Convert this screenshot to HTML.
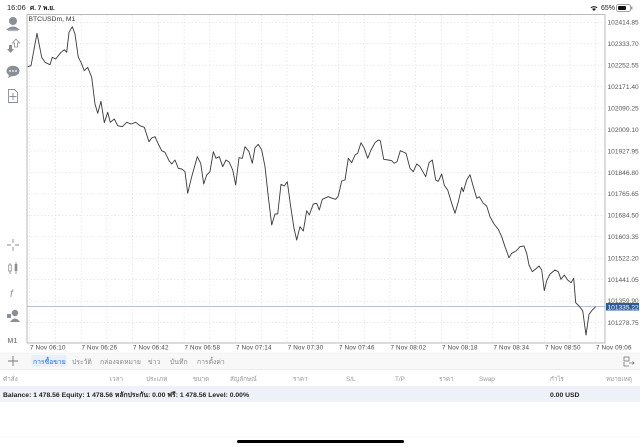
<!DOCTYPE html>
<html><head><meta charset="utf-8">
<style>
html,body{margin:0;padding:0;background:#fff;width:640px;height:447px;overflow:hidden}
svg{display:block}
text{font-family:"Liberation Sans","DejaVu Sans","Noto Sans CJK SC",sans-serif}
</style></head>
<body>
<svg width="640" height="447" viewBox="0 0 640 447" xmlns="http://www.w3.org/2000/svg">
<rect x="0" y="0" width="640" height="447" fill="#fff"/>
<!-- status bar -->
<text x="7" y="10" font-size="7.5" fill="#222">16:06</text>
<text x="30" y="10" font-size="6.5" fill="#222" font-weight="bold">ศ. 7 พ.ย.</text>
<g fill="#222">
<path d="M590.5,7.5 a5,5 0 0 1 7,0 l-0.8,0.8 a4,4 0 0 0 -5.4,0z"/>
<path d="M592,9 a3,3 0 0 1 4,0 l-2,2z"/>
</g>
<text x="601" y="10" font-size="7" fill="#222">65%</text>
<rect x="616.5" y="4.5" width="14" height="7" rx="2" fill="none" stroke="#888" stroke-width="0.8"/>
<rect x="618" y="6" width="8" height="4" rx="1" fill="#111"/>
<rect x="631.2" y="6.5" width="1.2" height="3" fill="#888"/>

<!-- chart grid -->
<g stroke="#dcdcdc" stroke-width="0.6" stroke-dasharray="1.5,2">
<line x1="27" x2="605" y1="22.3" y2="22.3"/>
<line x1="27" x2="605" y1="43.8" y2="43.8"/>
<line x1="27" x2="605" y1="65.2" y2="65.2"/>
<line x1="27" x2="605" y1="86.7" y2="86.7"/>
<line x1="27" x2="605" y1="108.1" y2="108.1"/>
<line x1="27" x2="605" y1="129.6" y2="129.6"/>
<line x1="27" x2="605" y1="151" y2="151"/>
<line x1="27" x2="605" y1="172.5" y2="172.5"/>
<line x1="27" x2="605" y1="193.9" y2="193.9"/>
<line x1="27" x2="605" y1="215.4" y2="215.4"/>
<line x1="27" x2="605" y1="236.8" y2="236.8"/>
<line x1="27" x2="605" y1="258.3" y2="258.3"/>
<line x1="27" x2="605" y1="279.7" y2="279.7"/>
<line x1="27" x2="605" y1="301.2" y2="301.2"/>
<line x1="27" x2="605" y1="322.6" y2="322.6"/>
</g>
<g stroke="#dcdcdc" stroke-width="0.6" stroke-dasharray="1.5,2">
<line y1="15" y2="343" x1="29.7" x2="29.7"/>
<line y1="15" y2="343" x1="55.4" x2="55.4"/>
<line y1="15" y2="343" x1="81.2" x2="81.2"/>
<line y1="15" y2="343" x1="106.9" x2="106.9"/>
<line y1="15" y2="343" x1="132.6" x2="132.6"/>
<line y1="15" y2="343" x1="158.4" x2="158.4"/>
<line y1="15" y2="343" x1="184.1" x2="184.1"/>
<line y1="15" y2="343" x1="209.8" x2="209.8"/>
<line y1="15" y2="343" x1="235.5" x2="235.5"/>
<line y1="15" y2="343" x1="261.3" x2="261.3"/>
<line y1="15" y2="343" x1="287" x2="287"/>
<line y1="15" y2="343" x1="312.7" x2="312.7"/>
<line y1="15" y2="343" x1="338.5" x2="338.5"/>
<line y1="15" y2="343" x1="364.2" x2="364.2"/>
<line y1="15" y2="343" x1="389.9" x2="389.9"/>
<line y1="15" y2="343" x1="415.7" x2="415.7"/>
<line y1="15" y2="343" x1="441.4" x2="441.4"/>
<line y1="15" y2="343" x1="467.1" x2="467.1"/>
<line y1="15" y2="343" x1="492.8" x2="492.8"/>
<line y1="15" y2="343" x1="518.6" x2="518.6"/>
<line y1="15" y2="343" x1="544.3" x2="544.3"/>
<line y1="15" y2="343" x1="570" x2="570"/>
<line y1="15" y2="343" x1="595.8" x2="595.8"/>
</g>
<!-- current price line -->
<line x1="27" x2="605" y1="306.5" y2="306.5" stroke="#b8c3d0" stroke-width="0.9"/>
<!-- frame -->
<rect x="27" y="14.5" width="578" height="328.5" fill="none" stroke="#a8a8a8" stroke-width="0.8"/>

<text x="28.5" y="21" font-size="6.8" fill="#333">BTCUSDm, M1</text>

<!-- price line -->
<polyline fill="none" stroke="#3a3a3a" stroke-width="0.9" stroke-linejoin="round" points="
27.7,66.7 31,65.7 37,33.3 41.7,57.3 45,62.3 50,64.7 52.3,57.3 55.7,59 61,52.3 64.3,49.7 66.7,52.3 69,32.3 72.3,26.7 75,34 78.3,57.3 81,62.3 84.3,70.7 87.7,67.3 91.7,77.3 95,104 97.7,113.3 101,101.3 104.3,122.7 107.7,112.3 110.3,122.3 114.3,119 117.7,125.7 122.3,126.7 126.7,122.3 131,124 135.7,122.3 140,125.7 144.3,127.3 149,141.7 151.7,138 155,136.7 158.3,144 161.7,150.7 165,152.3 169,160.7 171.7,164 175,160 178.3,168.3 181.7,169 185,171.7 187.7,193.3 191.7,176.7 197.3,156.7 200.7,163.3 203.7,184 206.7,175 210,171.7 213.3,151.7 216,158.3 219.3,156.7 222.7,166.7 226,160 229.3,162.3 232.7,170 235.7,185 239,157.7 242.3,158.3 245,146.7 249,151.7 252.3,163.3 255,147.7 258.3,144.3 261.7,150 265,166.7 268.3,196.7 271.7,225 275,214 277.7,214 281,184.3 284.3,186 287.3,181.7 290.7,206.7 294,228.3 296.7,240 300,226.7 303.3,231 306.7,210.7 309.3,215 313.3,204 316.7,203.3 319.3,210 322.3,199.3 328.3,196.7 332.3,198.3 335.7,199.3 338.3,196 341.7,181 345,180 348.3,158.3 351.7,162.7 355,155 357.7,153.3 361,142.7 364.3,148.3 367.7,158.3 371,150 375,142.7 378.3,140 380.3,140.7 383.7,159.3 388.3,160 391.7,160.7 394.3,163.3 397,161.7 400.3,150.7 403.3,152 406,153.3 410,168.3 413.3,171.7 416.7,164 420,166.7 425.7,176.7 429,162.7 432.3,160 435.7,180 438.3,181.3 441.7,174 444.3,185.3 447.7,190 451.7,203.3 455,213.3 458.3,201.7 461.7,187.3 463.3,191.7 466.7,180 470,174.7 473.3,186.7 476.7,198.3 479.3,196.7 483.3,203.3 486.7,206 490,216.7 494,224 498.3,229.3 501.7,236.7 505,246.7 509,257.7 511.7,253.3 516,251 520,246.7 524,246 526.7,253.3 529,265 532.3,271.7 535.7,269 539,266 541.7,270 544.3,290.7 546.7,280.7 550,274 555,270 558.3,271.7 561,279.3 564.3,275 567.7,280 571,282.7 573.7,278.3 575.7,302.7 579,306 582.7,310.7 586,335 589,314.3 592.3,310 595.7,306.7"/>

<!-- price axis labels -->
<g font-size="6.6" fill="#555">
<text x="607.5" y="24.6">102414.85</text>
<text x="607.5" y="46.1">102333.70</text>
<text x="607.5" y="67.5">102252.55</text>
<text x="607.5" y="89">102171.40</text>
<text x="607.5" y="110.4">102090.25</text>
<text x="607.5" y="131.9">102009.10</text>
<text x="607.5" y="153.3">101927.95</text>
<text x="607.5" y="174.8">101846.80</text>
<text x="607.5" y="196.2">101765.65</text>
<text x="607.5" y="217.7">101684.50</text>
<text x="607.5" y="239.1">101603.35</text>
<text x="607.5" y="260.6">101522.20</text>
<text x="607.5" y="282">101441.05</text>
<text x="607.5" y="303">101359.90</text>
<text x="607.5" y="324.9">101278.75</text>
</g>
<rect x="606" y="303" width="33" height="7.5" fill="#2d5c99"/>
<text x="607.5" y="309.3" font-size="6.6" fill="#fff">101335.22</text>

<!-- time labels -->
<g font-size="6.3" fill="#444" letter-spacing="0.15">
<text x="30" y="349.5">7 Nov 06:10</text>
<text x="81.5" y="349.5">7 Nov 06:26</text>
<text x="133" y="349.5">7 Nov 06:42</text>
<text x="184.5" y="349.5">7 Nov 06:58</text>
<text x="236" y="349.5">7 Nov 07:14</text>
<text x="287.7" y="349.5">7 Nov 07:30</text>
<text x="339" y="349.5">7 Nov 07:46</text>
<text x="390.5" y="349.5">7 Nov 08:02</text>
<text x="442" y="349.5">7 Nov 08:18</text>
<text x="493.5" y="349.5">7 Nov 08:34</text>
<text x="545" y="349.5">7 Nov 08:50</text>
<text x="596" y="349.5">7 Nov 09:06</text>
</g>

<!-- left toolbar icons -->
<g fill="#8a8f96">
<circle cx="13" cy="21" r="4"/>
<path d="M6,30 q7,-7 14,0 z"/>
<rect x="8" y="29.5" width="10" height="1.6" fill="#a9b3bd"/>
<!-- arrows -->
<path d="M9,45 h3 v4 h2 l-3.5,4 l-3.5,-4 h2z"/>
<path d="M16,39 l3.5,4 h-2 v4 h-3 v-4 h-2z" fill="none" stroke="#8a8f96" stroke-width="0.8"/>
<!-- chat -->
<ellipse cx="13" cy="71" rx="6.5" ry="5.2"/>
<path d="M9,75 l-1,3 l4,-2z"/>
<circle cx="10" cy="71" r="0.9" fill="#fff"/><circle cx="13" cy="71" r="0.9" fill="#fff"/><circle cx="16" cy="71" r="0.9" fill="#fff"/>
</g>
<g fill="none" stroke="#8a8f96" stroke-width="0.9">
<path d="M8.5,89.5 h6 l3,3 v10 h-9z"/>
<path d="M13,93 v7 M9.5,96.5 h7"/>
<!-- crosshair -->
<path d="M13,239 v4 M13,247 v4 M7,245 h4 M15,245 h4"/>
<!-- candles -->
<path d="M10,263 v11 M16,262 v12"/>
</g>
<rect x="8.7" y="265" width="2.6" height="6" fill="#fff" stroke="#8a8f96" stroke-width="0.8"/>
<rect x="14.7" y="264" width="2.6" height="7" fill="#8a8f96"/>
<text x="10" y="297" font-size="10" font-style="italic" fill="#8a8f96" font-family="Liberation Serif">f</text>
<g fill="#8a8f96">
<circle cx="15" cy="313" r="3.2"/>
<path d="M10,322 q5,-7 10,0z"/>
<rect x="7" y="314" width="4" height="4" rx="0.5"/>
</g>
<text x="7.5" y="343" font-size="7" fill="#8a8f96" font-weight="bold">M1</text>

<!-- tab row -->
<rect x="0" y="353" width="640" height="16.5" fill="#f8f8f8"/>
<line x1="0" x2="640" y1="353" y2="353" stroke="#ececec" stroke-width="0.6"/>
<line x1="0" x2="640" y1="369.7" y2="369.7" stroke="#e4e4e4" stroke-width="0.6"/>
<path d="M13,356 v10 M8,361 h10" stroke="#777" stroke-width="0.9"/>
<rect x="31.5" y="355" width="35" height="12" rx="2" fill="#eaf0fa"/>
<g font-size="6.8">
<text x="33" y="364" fill="#2b6fd6">การซื้อขาย</text>
<text x="72" y="364" fill="#888">ประวัติ</text>
<text x="100" y="364" fill="#888">กล่องจดหมาย</text>
<text x="148" y="364" fill="#888">ข่าว</text>
<text x="170" y="364" fill="#888">บันทึก</text>
<text x="197" y="364" fill="#888">การตั้งค่า</text>
</g>
<g fill="none" stroke="#777" stroke-width="0.8">
<rect x="624" y="357" width="5" height="4"/>
<path d="M624,362 v4 h5 M629,363 h5 l-1.5,-1.5 M634,363 l-1.5,1.5"/>
</g>

<!-- header row -->
<g font-size="6.3" fill="#999">
<text x="3" y="381">คำสั่ง</text>
<text x="110" y="381">เวลา</text>
<text x="146" y="381">ประเภท</text>
<text x="193" y="381">ขนาด</text>
<text x="230" y="381">สัญลักษณ์</text>
<text x="293" y="381">ราคา</text>
<text x="346" y="381">S/L</text>
<text x="395" y="381">T/P</text>
<text x="439" y="381">ราคา</text>
<text x="479" y="381">Swap</text>
<text x="550" y="381">กำไร</text>
<text x="606" y="381">หมายเหตุ</text>
</g>

<!-- balance row -->
<rect x="0" y="386" width="640" height="16" fill="#eef1f7"/>
<text x="3" y="397" font-size="6.8" fill="#222" font-weight="bold">Balance: 1 478.56 Equity: 1 478.56 หลักประกัน: 0.00 ฟรี: 1 478.56 Level: 0.00%</text>
<text x="550" y="397" font-size="6.8" fill="#222" font-weight="bold">0.00  USD</text>

<line x1="0" x2="640" y1="437" y2="437" stroke="#f0f0f0" stroke-width="0.6"/>
<rect x="237" y="440" width="167" height="3" rx="1.5" fill="#000"/>
</svg>
</body></html>
